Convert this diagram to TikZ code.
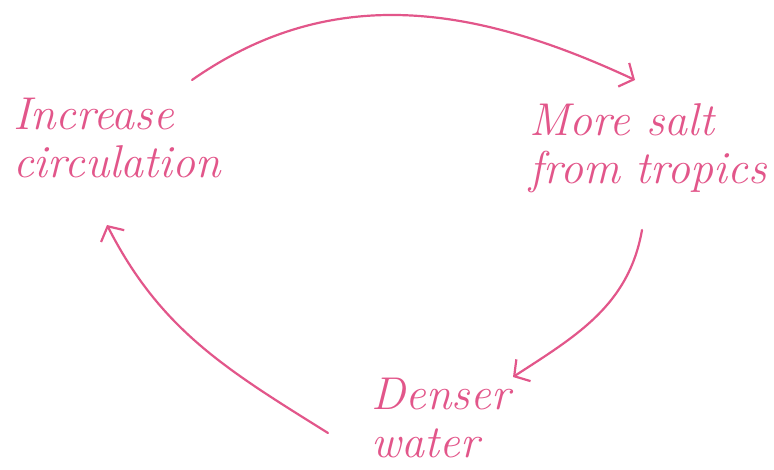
\documentclass[tikz,border=0pt]{standalone}
\usetikzlibrary{arrows.meta, positioning}
\definecolor{penpink}{RGB}{226,86,138}

\begin{document}
\begin{tikzpicture}[
					x=1pt, y=1pt,
					note/.style={align=left, text=penpink, inner sep=2pt, font=\fontsize{46}{48}\selectfont\itshape},
					flow/.style={-{Straight Barb[length=11pt, width=26pt, line width=2.2pt]}, draw=penpink, line width=2.2pt, line cap=round}
					]
					\useasboundingbox (0,0) rectangle (774,469);
					\node (incr) [note] at (117,331) {Increase\\circulation};
					\node (salt) [note] at (648,321) {More salt\\from tropics};
					\node (dense) [note] at (441,51) {Denser\\water};
					
					\draw [flow] ([xshift=75pt, yshift=58pt]incr.center) to[out=35, in=155] ([xshift=-13pt, yshift=68pt]salt.center);
					\draw [flow] ([xshift=-6pt, yshift=-82pt]salt.center) to[out=-100, in=33] ([xshift=72pt, yshift=41pt]dense.center);
					\draw [flow] ([xshift=-113pt, yshift=-15pt]dense.center) to[out=148, in=-63] ([xshift=-10pt, yshift=-87pt]incr.center);
				\end{tikzpicture}
\end{document}
